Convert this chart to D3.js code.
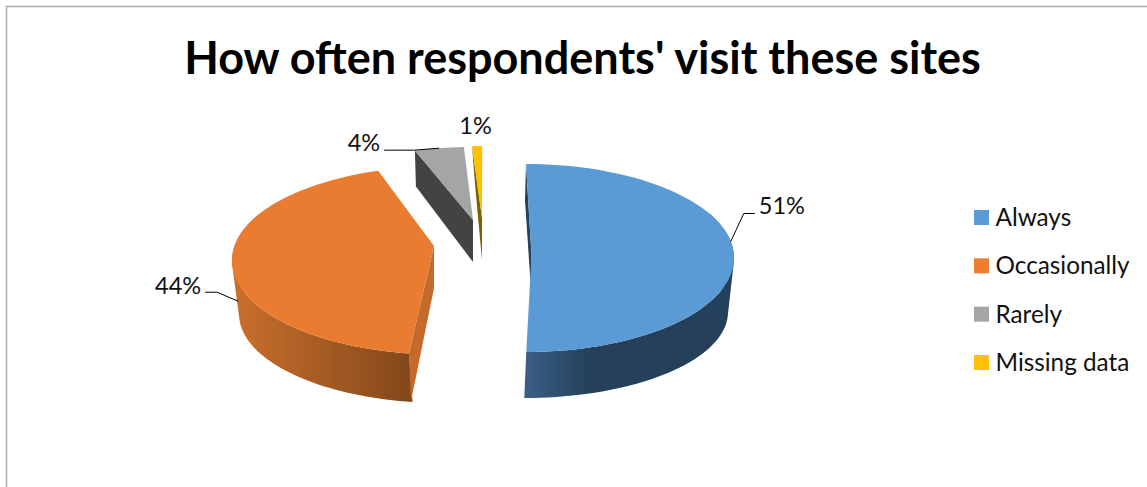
<!DOCTYPE html>
<html>
<head>
<meta charset="utf-8">
<script src="https://cdnjs.cloudflare.com/ajax/libs/d3/7.8.5/d3.min.js"></script>
<style>
  html, body { margin: 0; padding: 0; background: #fff; overflow: hidden; }
  svg { display: block; }
  text { font-family: Lato, "Noto Sans", sans-serif; fill: #111; }
</style>
</head>
<body>
<svg id="chart" width="1147" height="487"></svg>
<script>
// Survey shares, in percent
const categories = ["Always", "Occasionally", "Rarely", "Missing data"];
const shares = [51, 44, 4, 1];
const chartTitle = "How often respondents' visit these sites";

// Colours of the top faces, cut faces and rim gradients
const topColors = ["#5B9BD5", "#EA7C31", "#A5A5A5", "#FFC000"];
const legendColors = ["#5B9BD5", "#ED7D31", "#A5A5A5", "#FFC000"];
const cutColors = ["#24405A", "#C46A2B", "#434343", "#7F6000"];
const rimStops = [
  { x1: 524, x2: 592, from: "#3A5F86", to: "#24405A" },
  { x1: 238, x2: 411, from: "#C86E2C", to: "#82481B" },
  { x1: 415, x2: 473, from: "#434343", to: "#434343" },
  { x1: 472, x2: 482, from: "#7F6000", to: "#7F6000" }
];

// Each exploded wedge is seen in perspective: a top ellipse, a lower ellipse,
// an apex, and a small correction from pie angle to ellipse parameter.
const wedgeViews = [
  { cx: 526, cy: 258, rx: 208, ry: 94, lcx: 524, lcy: 312, lrx: 204, lry: 86,
    ax: 531.5, ay: 255, scale: 0.98, offset: 1.37, cutDrop: 36, cutDx: -1 },
  { cx: 440, cy: 260.5, rx: 208, ry: 94, lcx: 443, lcy: 314, lrx: 204, lry: 89,
    ax: 434, ay: 246, scale: 0.973, offset: 11.3, cutDrop: 48, cutDx: 2 },
  { cx: 472, cy: 241, rx: 208, ry: 94, lcx: 473, lcy: 274, lrx: 204, lry: 90,
    ax: 473, ay: 220, scale: 0.95, offset: 20.5, cutDrop: 36, cutDx: 1 },
  { cx: 484, cy: 240, rx: 208, ry: 94, lcx: 484, lcy: 274, lrx: 204, lry: 90,
    ax: 482, ay: 218, scale: 0.78, offset: 79.8, cutDrop: 38, cutDx: 3 }
];
const apexDrop = 42;

// Leader lines: where along the wedge rim they start, and the elbow offsets
const leaders = [
  { along: 0.444, sy: 0, ex: 13, ey: -28, tail: 11, lx: 4, ly: -5, anchor: "start" },
  { along: 0.4375, sy: 18, ex: -21, ey: -9, tail: -12, lx: -4, ly: -4, anchor: "end" },
  { along: 0.50, sy: 0, ex: -25, ey: 2, tail: -30, lx: -4, ly: -5, anchor: "end" },
  null
];
const smallLabel = { x: 475.5, y: 128 };

const startAngleDeg = -1.4;

const svg = d3.select("#chart");

// Outer chart frame, open towards the right and bottom
svg.append("path")
  .attr("d", d3.line()([[6.5, 487], [6.5, 6.5], [1147, 6.5]]))
  .attr("fill", "none").attr("stroke", "#ADADAD").attr("stroke-width", 1.5);

svg.append("text")
  .attr("x", 582.5).attr("y", 74)
  .attr("text-anchor", "middle")
  .attr("font-size", 45).attr("font-weight", 700)
  .style("fill", "#000")
  .text(chartTitle);

const rad = Math.PI / 180;
const pie = d3.pie().sort(null)
  .startAngle(startAngleDeg * rad)
  .endAngle((startAngleDeg + 360) * rad);
const arcs = pie(shares);

const color = d3.scaleOrdinal().domain(categories).range(topColors);
const line = d3.line();

function param(view, angle) {
  return (view.offset + view.scale * angle / rad) * rad;
}
function topPoint(view, angle) {
  const t = param(view, angle);
  return [view.cx + view.rx * Math.sin(t), view.cy - view.ry * Math.cos(t)];
}
function lowPoint(view, angle) {
  const t = param(view, angle);
  return [view.lcx + view.lrx * Math.sin(t), view.lcy - view.lry * Math.cos(t)];
}
function rimAngles(d) {
  return d3.range(0, 81).map(i => d.startAngle + (d.endAngle - d.startAngle) * i / 80);
}

const defs = svg.append("defs");
rimStops.forEach((g, i) => {
  const lg = defs.append("linearGradient")
    .attr("id", "rim" + i)
    .attr("gradientUnits", "userSpaceOnUse")
    .attr("x1", g.x1).attr("x2", g.x2).attr("y1", 0).attr("y2", 0);
  lg.append("stop").attr("offset", 0).attr("stop-color", g.from);
  lg.append("stop").attr("offset", 1).attr("stop-color", g.to);
});

// Back wedges first so the large ones sit on top
const drawOrder = [2, 3, 1, 0];
drawOrder.forEach(i => {
  const d = arcs[i], view = wedgeViews[i];
  const angles = rimAngles(d);
  const upper = angles.map(a => topPoint(view, a));
  const lower = angles.map(a => lowPoint(view, a));
  const apex = [view.ax, view.ay];
  const apexLow = [view.ax, view.ay + apexDrop];
  const cutLow = [upper[0][0] + view.cutDx, upper[0][1] + view.cutDrop];
  const g = svg.append("g").attr("class", "wedge");

  // The rim is one path of convex strips wound the same way, so they merge
  // without seams; only the part that faces the viewer is swept.
  const strips = d3.range(angles.length - 1)
    .filter(j => Math.cos(param(view, angles[j])) < 0.5)
    .map(j => line(d3.polygonHull([upper[j], upper[j + 1], lower[j + 1], lower[j]])) + "Z");
  if (strips.length) {
    g.append("path").attr("d", strips.join("")).attr("fill", `url(#rim${i})`);
  }

  g.append("path")
    .attr("d", line([upper[0], cutLow, apexLow, apex]) + "Z")
    .attr("fill", cutColors[i]);
  g.append("path")
    .attr("d", line([apex].concat(upper)) + "Z")
    .attr("fill", color(categories[i]));
});

// Percentage labels and their leader lines
arcs.forEach((d, i) => {
  const text = shares[i] + "%";
  const lead = leaders[i];
  if (!lead) {
    svg.append("text").attr("x", smallLabel.x).attr("y", smallLabel.y)
      .attr("text-anchor", "middle").attr("dominant-baseline", "middle")
      .attr("font-size", 23.5).text(text);
    return;
  }
  const rim = topPoint(wedgeViews[i], d.startAngle + (d.endAngle - d.startAngle) * lead.along);
  const start = [rim[0], rim[1] + lead.sy];
  const elbow = [start[0] + lead.ex, start[1] + lead.ey];
  const end = [elbow[0] + lead.tail, elbow[1]];
  svg.append("path")
    .attr("d", line([start, elbow, end]))
    .attr("fill", "none").attr("stroke", "#000").attr("stroke-width", 1);
  svg.append("text")
    .attr("x", end[0] + lead.lx).attr("y", end[1] + lead.ly)
    .attr("text-anchor", lead.anchor).attr("dominant-baseline", "middle")
    .attr("font-size", 23.5).text(text);
});

// Legend
const legendY = d3.scalePoint().domain(categories).range([217.5, 362.5]);
const legend = svg.append("g").selectAll("g").data(categories).join("g")
  .attr("transform", c => `translate(974,${legendY(c)})`);
legend.append("rect")
  .attr("x", 0).attr("y", -7.5).attr("width", 15).attr("height", 15)
  .attr("fill", (c, i) => legendColors[i]);
legend.append("text")
  .attr("x", 21.5).attr("y", 2.5)
  .attr("dominant-baseline", "middle")
  .attr("font-size", 24.3).text(c => c);
</script>
</body>
</html>
